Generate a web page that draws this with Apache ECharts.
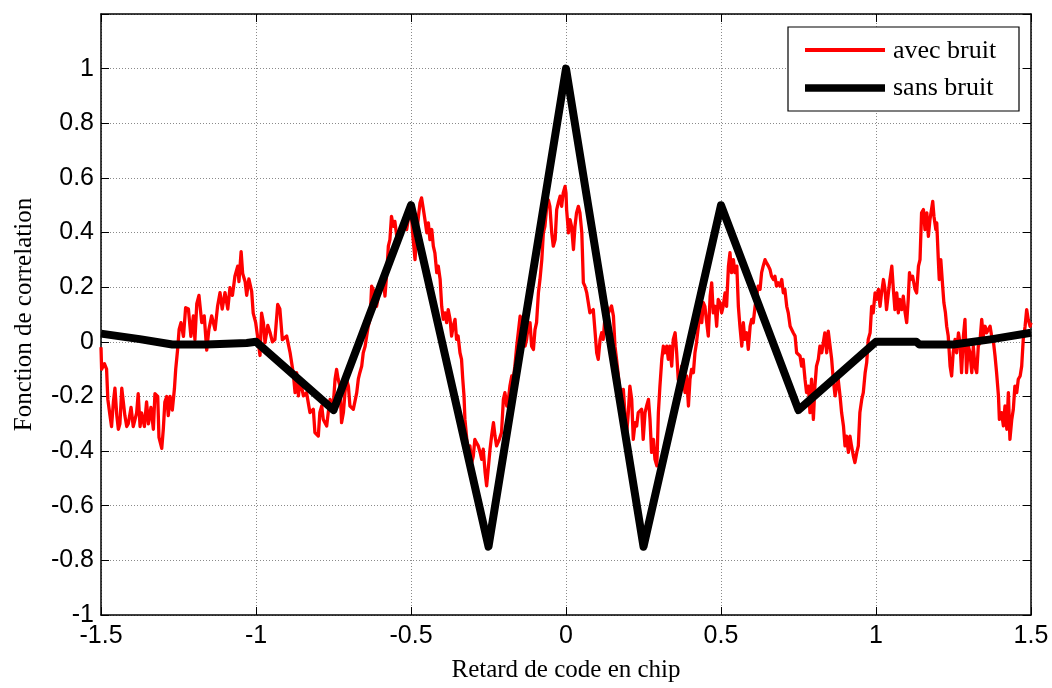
<!DOCTYPE html>
<html>
<head>
<meta charset="utf-8">
<script src="https://cdn.jsdelivr.net/npm/echarts@6/dist/echarts.min.js"></script>
<style>
html,body{margin:0;padding:0;background:#fff;}
#chart{width:1052px;height:688px;}
</style>
</head>
<body>
<div id="chart"></div>
<script>
// ---- data ----
const xTicks = [-1.5, -1, -0.5, 0, 0.5, 1, 1.5];
const yTicks = [-1, -0.8, -0.6, -0.4, -0.2, 0, 0.2, 0.4, 0.6, 0.8, 1];
const seriesNames = ['avec bruit', 'sans bruit'];

const blackX = [-1.5, -1.375, -1.27, -1.16, -1.03, -1.0, -0.75, -0.5, -0.25, 0, 0.25, 0.5, 0.75, 1.0, 1.13, 1.14, 1.25, 1.375, 1.5];
const blackY = [0.03, 0.01, -0.01, -0.01, -0.004, 0.0, -0.25, 0.5, -0.75, 1.0, -0.75, 0.5, -0.25, 0.0, 0.0, -0.01, -0.01, 0.01, 0.033];

const redX = [
-1.5,-1.498,-1.489,-1.482,-1.478,-1.471,-1.466,-1.460,-1.455,-1.449,-1.444,-1.439,-1.433,-1.428,-1.423,-1.417,-1.412,-1.403,-1.396,-1.385,
-1.380,-1.374,-1.369,-1.360,-1.353,-1.347,-1.339,-1.331,-1.326,-1.317,-1.313,-1.304,-1.299,-1.294,-1.288,-1.283,-1.277,-1.270,-1.263,-1.259,
-1.253,-1.248,-1.242,-1.234,-1.227,-1.218,-1.210,-1.202,-1.197,-1.191,-1.184,-1.175,-1.167,-1.159,-1.152,-1.143,-1.132,-1.124,-1.116,-1.109,
-1.100,-1.091,-1.084,-1.076,-1.068,-1.059,-1.055,-1.048,-1.043,-1.035,-1.030,-1.023,-1.014,-1.009,-1.001,-0.995,-0.987,-0.982,-0.976,-0.971,
-0.962,-0.955,-0.947,-0.939,-0.930,-0.923,-0.915,
-0.901,-0.890,-0.880,-0.874,-0.869,-0.863,-0.858,-0.847,-0.837,-0.826,-0.815,-0.810,-0.799,-0.794,-0.788,-0.783,-0.772,-0.767,-0.761,-0.751,
-0.745,-0.740,-0.735,-0.729,-0.724,-0.718,-0.713,-0.708,-0.702,-0.697,-0.686,-0.675,-0.670,-0.665,-0.659,-0.654,-0.648,-0.643,-0.638,-0.632,
-0.627,-0.622,-0.611,-0.605,-0.600,-0.589,-0.584,-0.579,-0.573,-0.568,-0.563,-0.557,-0.552,-0.546,-0.535,-0.525,-0.519,-0.514,-0.509,-0.503,
-0.498,-0.493,-0.487,-0.482,-0.476,-0.471,-0.466,-0.460,-0.455,-0.449,-0.444,-0.439,-0.433,-0.428,-0.423,-0.417,-0.412,-0.406,-0.401,-0.396,
-0.390,-0.385,-0.380,-0.374,-0.369,-0.364,-0.358,-0.353,-0.348,-0.342,-0.337,-0.333,-0.329,-0.326,-0.320,-0.315,-0.310,-0.304,-0.299,-0.294,
-0.289,-0.283,
-0.277,-0.272,-0.267,-0.261,-0.256,-0.251,-0.245,-0.240,-0.234,-0.229,-0.224,-0.215,-0.208,-0.202,-0.197,-0.191,-0.186,-0.181,-0.175,-0.170,
-0.165,-0.159,-0.154,-0.148,-0.143,-0.138,-0.132,-0.127,-0.122,-0.116,-0.111,-0.105,-0.100,-0.095,-0.089,-0.084,-0.078,-0.073,-0.068,-0.062,
-0.057,-0.052,-0.046,-0.041,-0.035,-0.030,-0.025,-0.019,-0.014,-0.009,-0.003,0.000,0.002,0.008,0.013,0.018,0.024,0.029,0.034,0.040,
0.045,0.051,0.056,0.061,0.067,0.072,0.077,0.083,0.088,0.094,0.099,0.104,0.110,0.115,0.120,0.126,0.131,0.137,0.142,0.147,
0.153,0.158,0.163,0.169,0.174,0.180,0.185,0.190,0.196,0.201,0.206,0.212,0.217,0.223,0.228,0.233,
0.239,0.244,0.249,0.255,0.260,0.266,0.271,0.276,0.282,0.287,0.293,0.298,0.303,0.309,0.314,0.319,0.325,0.330,0.335,0.341,
0.346,0.352,0.357,0.362,0.368,0.373,0.378,0.384,0.389,0.395,0.400,0.405,0.411,0.416,0.421,0.427,0.432,0.438,0.443,0.448,
0.454,0.459,0.465,0.470,0.475,0.481,0.486,0.491,0.497,0.502,0.507,0.513,0.518,0.524,0.529,0.534,0.540,0.545,0.551,0.556,
0.561,0.567,0.572,0.577,0.583,0.588,0.594,0.599,0.604,0.610,0.615,0.620,0.626,0.631,0.636,0.642,0.647,0.653,0.658,0.663,
0.669,0.674,0.679,0.685,0.690,0.696,0.701,0.706,0.712,0.717,0.723,0.728,0.733,0.739,0.744,0.749,0.755,0.760,0.765,0.771,
0.776,0.782,0.787,0.792,0.798,0.803,0.808,0.814,0.819,0.825,0.830,
0.835,0.841,0.846,0.852,0.857,0.862,0.868,0.873,0.878,0.884,0.889,0.895,0.900,0.905,0.911,0.916,0.921,0.927,0.932,0.938,
0.943,0.948,0.954,0.959,0.965,0.970,0.975,0.981,0.986,0.991,0.997,1.002,1.008,1.013,1.018,1.024,1.029,1.034,1.040,1.045,
1.051,1.056,1.061,1.067,1.072,1.077,1.083,1.088,1.094,1.099,1.104,1.108,1.112,1.118,1.126,1.131,1.137,1.142,1.147,1.153,
1.158,1.164,1.169,1.174,1.183,1.187,1.193,1.196,1.201,1.204,1.209,1.215,1.219,1.224,1.228,1.233,1.239,1.244,1.249,1.255,
1.260,1.266,1.271,1.276,1.282,1.287,1.292,1.298,1.303,1.309,1.314,1.319,1.325,1.330,1.335,1.341,1.346,1.352,1.357,1.362,
1.368,1.373,1.378,1.384,1.389,1.395,1.398,1.405,1.411,1.416,1.422,1.427,1.432,1.438,1.443,1.448,1.454,1.459,1.465,1.470,
1.475,1.481,1.486,1.491,1.497,1.5
];
const redY = [
-0.02,-0.10,-0.08,-0.10,-0.21,-0.27,-0.31,-0.22,-0.17,-0.27,-0.32,-0.30,-0.17,-0.17,-0.27,-0.31,-0.30,-0.24,-0.31,-0.26,
-0.19,-0.31,-0.26,-0.31,-0.22,-0.30,-0.24,-0.32,-0.19,-0.20,-0.35,-0.39,-0.32,-0.22,-0.20,-0.27,-0.20,-0.25,-0.17,-0.10,
-0.03,0.045,0.07,0.02,0.125,0.12,0.02,0.095,0.008,0.14,0.17,0.07,0.095,-0.03,0.045,0.095,0.045,0.13,0.18,0.12,
0.18,0.12,0.198,0.17,0.24,0.277,0.22,0.33,0.25,0.22,0.17,0.23,0.185,0.105,0.07,0.02,-0.05,0.105,0.07,-0.003,
0.06,0.035,0.0,0.008,0.137,0.12,0.008,
0.021,-0.040,-0.113,-0.186,-0.113,-0.198,-0.137,-0.198,-0.186,-0.259,-0.247,-0.332,-0.345,-0.259,-0.235,-0.284,-0.308,-0.259,-0.211,-0.235,
-0.137,-0.101,-0.137,-0.162,-0.296,-0.259,-0.186,-0.137,-0.162,-0.235,-0.247,-0.186,-0.137,-0.113,-0.089,-0.040,-0.016,0.021,0.057,0.082,
0.204,0.192,0.130,0.167,0.192,0.228,0.167,0.240,0.350,0.374,0.459,0.423,0.441,0.386,0.411,0.435,0.447,0.411,0.447,0.472,
0.447,0.374,0.301,0.386,0.459,0.508,0.527,0.484,0.447,0.399,0.435,0.374,0.411,0.350,0.326,0.253,0.277,0.228,0.130,0.082,
0.106,0.070,0.118,0.082,0.021,0.057,0.082,0.009,0.021,-0.040,-0.064,-0.137,-0.198,-0.284,-0.357,-0.418,-0.381,-0.442,-0.418,-0.357,
-0.369,-0.381,
-0.405,-0.430,-0.393,-0.478,-0.527,-0.466,-0.393,-0.345,-0.296,-0.345,-0.381,-0.357,-0.332,-0.211,-0.186,-0.235,-0.211,-0.162,-0.125,-0.137,
-0.089,-0.016,0.033,0.094,0.082,0.033,-0.016,0.009,0.057,0.070,-0.016,-0.028,0.045,0.070,0.179,0.228,0.301,0.399,0.423,0.496,
0.520,0.496,0.399,0.350,0.374,0.484,0.508,0.533,0.496,0.545,0.569,0.545,0.484,0.399,0.447,0.423,0.338,0.423,0.472,0.496,
0.472,0.399,0.216,0.204,0.179,0.143,0.106,0.106,0.118,0.033,-0.040,-0.064,0.009,0.033,0.009,0.094,0.131,0.106,0.106,0.131,
0.094,-0.016,-0.064,-0.125,-0.186,-0.211,-0.174,-0.259,-0.332,-0.259,-0.162,-0.211,-0.357,-0.296,-0.308,-0.259,
-0.259,-0.247,-0.357,-0.259,-0.235,-0.211,-0.284,-0.405,-0.357,-0.430,-0.454,-0.259,-0.162,-0.064,-0.016,-0.040,-0.016,-0.064,-0.016,-0.089,
0.009,0.033,-0.040,-0.137,-0.162,-0.089,-0.137,-0.186,-0.125,-0.235,-0.137,-0.101,-0.113,-0.040,-0.003,0.057,0.106,0.070,0.143,0.130,
0.070,0.021,0.167,0.216,0.106,0.130,0.057,0.155,0.143,0.106,0.130,0.179,0.130,0.277,0.326,0.253,0.301,0.253,0.277,0.130,
0.057,-0.016,0.070,0.009,0.033,-0.028,0.057,0.082,0.070,0.130,0.167,0.204,0.192,0.253,0.277,0.301,0.289,0.277,0.265,0.240,
0.228,0.240,0.204,0.216,0.204,0.228,0.179,0.192,0.130,0.106,0.057,0.057,0.033,0.021,-0.040,-0.040,-0.052,-0.089,-0.064,-0.137,
-0.186,-0.162,-0.259,-0.137,-0.284,-0.162,-0.089,-0.064,-0.016,-0.040,-0.003,
0.033,-0.040,0.039,0.033,-0.064,-0.137,-0.198,-0.162,-0.137,-0.198,-0.259,-0.308,-0.381,-0.345,-0.405,-0.345,-0.381,-0.418,-0.442,-0.405,
-0.381,-0.259,-0.211,-0.186,-0.113,-0.076,0.009,0.033,0.130,0.106,0.179,0.155,0.192,0.130,0.179,0.228,0.192,0.118,0.179,0.228,
0.277,0.192,0.118,0.179,0.106,0.155,0.118,0.167,0.106,0.070,0.155,0.253,0.228,0.240,0.192,0.179,0.277,0.301,0.472,0.484,
0.411,0.472,0.386,0.447,0.514,0.459,0.411,0.435,0.301,0.228,0.301,0.204,0.143,0.106,0.057,0.021,-0.089,-0.125,-0.040,0.009,
-0.040,0.033,-0.003,-0.113,0.021,0.082,-0.113,-0.016,-0.040,-0.113,-0.016,-0.089,-0.113,-0.016,-0.003,0.082,0.021,0.057,0.033,0.033,
0.057,0.021,0.009,-0.052,-0.113,-0.198,-0.284,-0.259,-0.308,-0.235,-0.320,-0.186,-0.357,-0.284,-0.247,-0.162,-0.186,-0.137,-0.125,-0.089,
0.009,0.057,0.118,0.082,0.057,0.070
];

// ---- build chart ----
const zip = (xs, ys) => xs.map((x, i) => [x, ys[i]]);
const fmt = v => String(Math.round(v * 10) / 10);
const labelFont = {fontFamily: 'Liberation Sans, Arial, sans-serif', fontSize: 25, color: '#000'};
const serif = 'Liberation Serif, Times New Roman, serif';
const gridLine = {show: true, lineStyle: {color: '#8a8a8a', width: 1, type: [1, 2]}};
const axisLine = {show: true, onZero: false, lineStyle: {color: '#000', width: 1.5}};
const tick = {show: true, inside: true, length: 8, lineStyle: {color: '#000', width: 1}};

const chart = echarts.init(document.getElementById('chart'), null, {renderer: 'canvas'});
chart.setOption({
  animation: false,
  backgroundColor: '#fff',
  grid: {left: 101, right: 21, top: 14, bottom: 71, containLabel: false},
  xAxis: [{
    type: 'value', min: xTicks[0], max: xTicks[xTicks.length - 1], interval: 0.5,
    axisLine, axisTick: tick, splitLine: gridLine,
    axisLabel: Object.assign({margin: 9, formatter: fmt, showMinLabel: true, showMaxLabel: true}, labelFont),
    name: 'Retard de code en chip', nameLocation: 'middle', nameGap: 43,
    nameTextStyle: {fontFamily: serif, fontSize: 25, color: '#000'}
  }, {
    type: 'value', position: 'top', min: xTicks[0], max: xTicks[xTicks.length - 1], interval: 0.5,
    axisLine, axisTick: tick, splitLine: {show: false}, axisLabel: {show: false}
  }],
  yAxis: [{
    type: 'value', min: yTicks[0], max: 1.2, interval: 0.2,
    axisLine, axisTick: tick, splitLine: gridLine,
    axisLabel: Object.assign({margin: 7, formatter: v => (v > 1.1 ? '' : fmt(v)), showMinLabel: true}, labelFont),
    name: 'Fonction de correlation', nameLocation: 'middle', nameGap: 64, nameRotate: 90,
    nameTextStyle: {fontFamily: serif, fontSize: 25, color: '#000'}
  }, {
    type: 'value', position: 'right', min: yTicks[0], max: 1.2, interval: 0.2,
    axisLine, axisTick: tick, splitLine: {show: false}, axisLabel: {show: false}
  }],
  series: [{
    name: seriesNames[0], type: 'line', data: zip(redX, redY), showSymbol: false, symbol: 'none',
    lineStyle: {color: '#ff0000', width: 3.3, join: 'round', cap: 'butt'}, z: 2
  }, {
    name: seriesNames[1], type: 'line', data: zip(blackX, blackY), showSymbol: false, symbol: 'none',
    lineStyle: {color: '#000', width: 8, join: 'round', cap: 'butt'}, z: 3
  }],
  graphic: [
    {type: 'rect', shape: {x: 788, y: 27, width: 231, height: 84}, style: {fill: '#fff', stroke: '#000', lineWidth: 1.2}, z: 10},
    {type: 'line', shape: {x1: 805, y1: 50, x2: 885, y2: 50}, style: {stroke: '#ff0000', lineWidth: 4}, z: 11},
    {type: 'line', shape: {x1: 805, y1: 88, x2: 885, y2: 88}, style: {stroke: '#000', lineWidth: 7.5}, z: 11},
    {type: 'text', x: 893, y: 51, style: {text: seriesNames[0], font: '26px ' + serif, fill: '#000', textVerticalAlign: 'middle'}, z: 11},
    {type: 'text', x: 893, y: 88.5, style: {text: seriesNames[1], font: '26px ' + serif, fill: '#000', textVerticalAlign: 'middle'}, z: 11}
  ]
});
</script>
</body>
</html>
